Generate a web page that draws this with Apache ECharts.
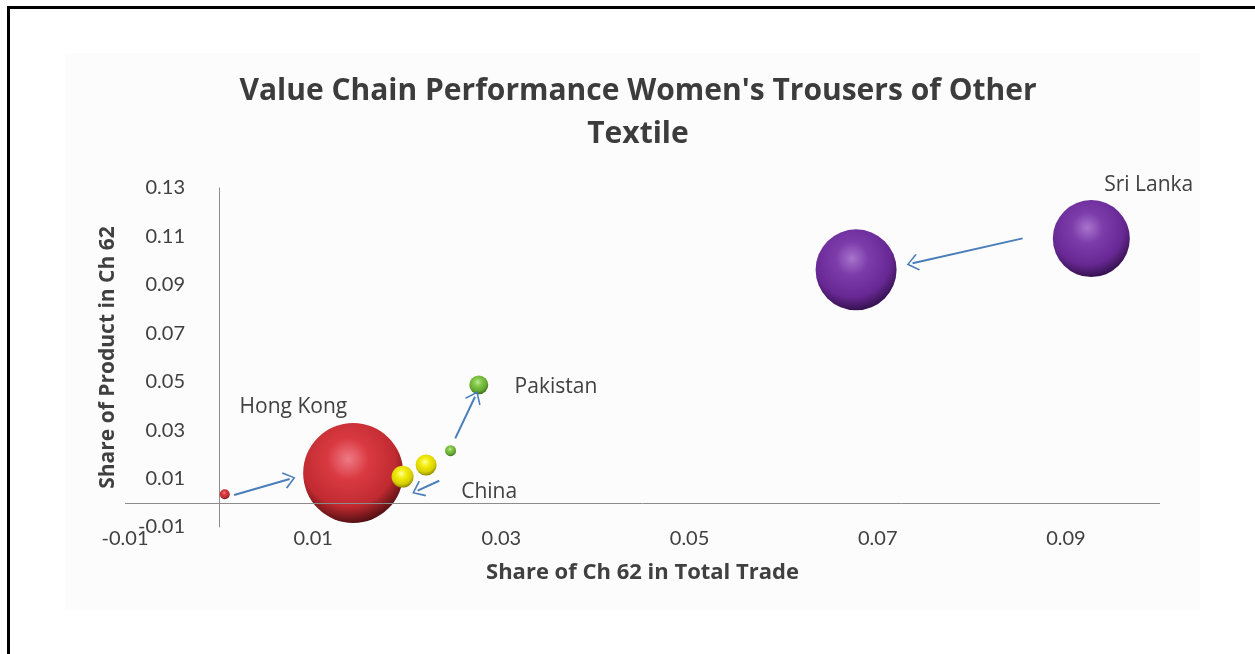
<!DOCTYPE html>
<html>
<head>
<meta charset="utf-8">
<script src="https://cdn.jsdelivr.net/npm/echarts@6/dist/echarts.min.js"></script>
<style>
  html, body { margin: 0; padding: 0; background: #fff; }
  #chart { width: 1255px; height: 654px; }
</style>
</head>
<body>
<div id="chart"></div>
<script>
  // each country: [share of ch62 in total trade, share of product in ch62, bubble size]
  const hongKong = [[0.0006, 0.0035, 1.0], [0.01425, 0.0123, 100]]
  const china = [[0.0195, 0.0108, 4.8], [0.0220, 0.0156, 4.4]]
  const pakistan = [[0.0246, 0.0215, 1.2], [0.0276, 0.0487, 3.6]]
  const sriLanka = [[0.0677, 0.0962, 65.6], [0.0927, 0.1091, 59.3]]

  // arrows: [from, to] in data units
  const arrows = [
    [[0.0016, 0.0032], [0.0075, 0.0098]],
    [[0.0234, 0.0091], [0.0211, 0.0050]],
    [[0.0251, 0.0266], [0.0272, 0.0438]],
    [[0.0854, 0.1092], [0.0737, 0.0989]]
  ]
  // name labels placed in data units
  const labelNames = ['Hong Kong', 'China', 'Pakistan', 'Sri Lanka']
  const labelPos = [[0.0079, 0.0396], [0.0287, 0.0045], [0.0358, 0.0479], [0.0988, 0.13]]

  const xMin = -0.01, xMax = 0.1, yMin = -0.01, yMax = 0.13, tickStep = 0.02

  const tickFont = 'Lato, "Open Sans", sans-serif'
  const font = '"Open Sans", Lato, sans-serif'
  const arrowHead = 'path://M0,0 L12,14 L10.4,15.6 L0,3.2 L-10.4,15.6 L-12,14 Z'

  function sphere(light, mid, dark, edge) {
    return {
      type: 'radial', x: 0.45, y: 0.36, r: 0.68,
      colorStops: [
        { offset: 0, color: light },
        { offset: 0.3, color: mid },
        { offset: 0.7, color: dark },
        { offset: 1, color: edge }
      ]
    }
  }

  function bubble(name, data, color) {
    return {
      name: name,
      type: 'scatter',
      data: data,
      symbolSize: d => 10 * Math.sqrt(d[2]),
      itemStyle: { color: color, opacity: 1 },
      z: 3
    }
  }

  const chart = echarts.init(document.getElementById('chart'))
  chart.setOption({
    backgroundColor: '#ffffff',
    animation: false,
    graphic: [
      { type: 'rect', shape: { x: 65, y: 53, width: 1135, height: 557 }, style: { fill: '#fcfcfc' }, z: -10 },
      { type: 'rect', shape: { x: 8.5, y: 7.5, width: 1400, height: 800 }, style: { fill: 'none', stroke: '#000', lineWidth: 3 }, z: 10 }
    ],
    title: {
      text: 'Value Chain Performance Women\'s Trousers of Other\nTextile',
      left: 633,
      textAlign: 'center',
      top: 65,
      textStyle: { fontFamily: font, fontSize: 30, fontWeight: 'bold', color: '#3c3c3c', lineHeight: 43 }
    },
    grid: { left: 125, right: 95, top: 188, bottom: 127 },
    xAxis: {
      type: 'value',
      min: xMin, max: xMax, interval: tickStep,
      name: 'Share of Ch 62 in Total Trade',
      nameLocation: 'middle',
      nameGap: 35,
      nameTextStyle: { fontFamily: font, fontSize: 22, fontWeight: 'bold', color: '#404040' },
      axisLine: { show: false, onZero: false },
      axisTick: { show: false },
      splitLine: { show: false },
      axisLabel: {
        fontFamily: tickFont, fontSize: 20, color: '#404040', margin: 2,
        showMaxLabel: false,
        formatter: v => v.toFixed(2)
      }
    },
    yAxis: {
      type: 'value',
      min: yMin, max: yMax, interval: tickStep,
      name: 'Share of Product in Ch 62',
      nameLocation: 'middle',
      nameGap: 6,
      nameTextStyle: { fontFamily: font, fontSize: 21, fontWeight: 'bold', color: '#404040' },
      axisLine: { show: true, onZero: true, lineStyle: { color: '#8c8c8c', width: 1 } },
      axisTick: { show: false },
      splitLine: { show: false },
      axisLabel: {
        fontFamily: tickFont, fontSize: 20, color: '#404040', margin: -60,
        formatter: v => v.toFixed(2)
      }
    },
    series: [
      bubble('Hong Kong', hongKong, sphere('#ee7a84', '#da3a42', '#c02a30', '#3c0a0c')),
      bubble('China', china, sphere('#ffffa0', '#f4ee10', '#d8d000', '#807a00')),
      bubble('Pakistan', pakistan, sphere('#bfe898', '#86c84a', '#62a830', '#2e5a14')),
      bubble('Sri Lanka', sriLanka, sphere('#a874cc', '#7c3caa', '#682894', '#2a0c40')),
      {
        type: 'scatter',
        data: [],
        z: 2,
        markLine: {
          silent: true,
          animation: false,
          label: { show: false },
          symbol: 'none',
          lineStyle: { color: '#8c8c8c', width: 1, type: 'solid' },
          data: [{ yAxis: 0 }]
        }
      },
      {
        type: 'scatter',
        data: [],
        z: 4,
        markLine: {
          silent: true,
          animation: false,
          label: { show: false },
          symbol: ['none', arrowHead],
          symbolSize: [17, 12],
          lineStyle: { color: '#4a7ebb', width: 2, type: 'solid' },
          data: arrows.map(a => [{ coord: a[0] }, { coord: a[1] }])
        },
        markPoint: {
          silent: true,
          animation: false,
          symbol: 'circle',
          symbolSize: 0,
          label: {
            show: true,
            position: 'inside',
            fontFamily: font, fontSize: 21, color: '#404040',
            formatter: p => p.name
          },
          data: labelNames.map((n, i) => ({
            name: n, coord: labelPos[i],
            label: i === 3 ? { offset: [0, -3] } : {}
          }))
        }
      }
    ]
  })
</script>
</body>
</html>
